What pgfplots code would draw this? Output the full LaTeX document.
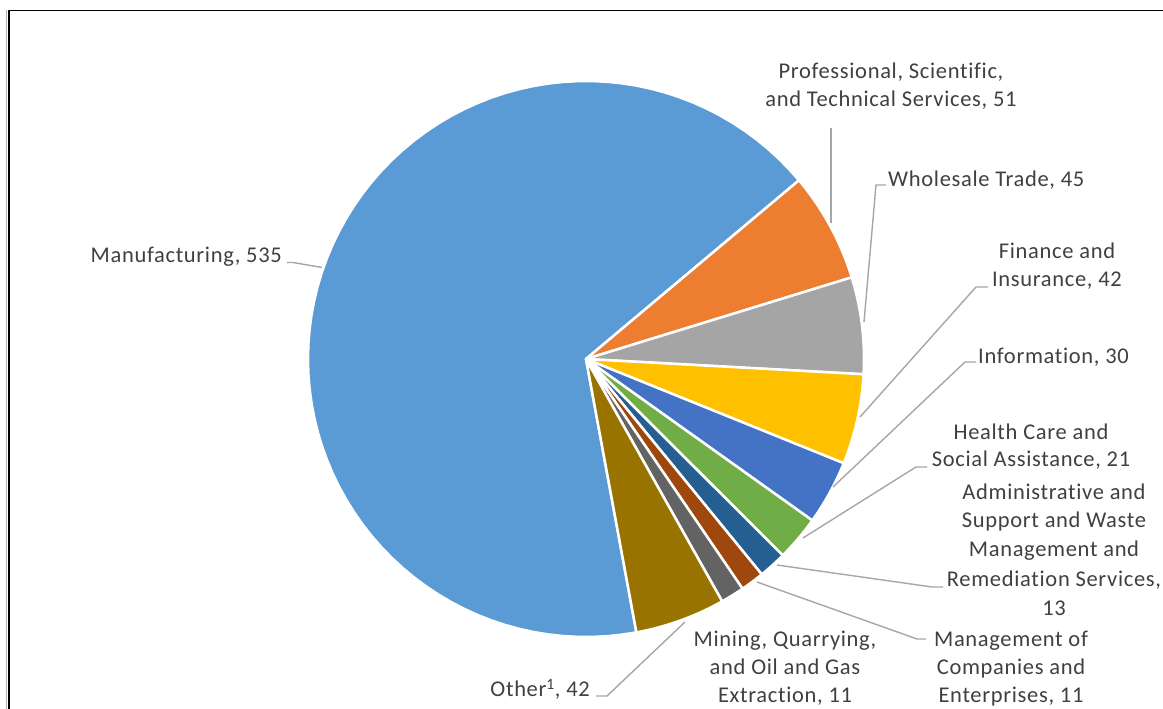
\documentclass[border=0pt]{standalone}
\usepackage{pgfplots}
\pgfplotsset{compat=1.18}
\usepackage{fontspec}
\setmainfont{Carlito}[LetterSpace=3, RawFeature={-liga;-clig;-calt;-dlig}]
\definecolor{cManu}{HTML}{5B9BD5}
\definecolor{cProf}{HTML}{ED7D31}
\definecolor{cWhol}{HTML}{A5A5A5}
\definecolor{cFin}{HTML}{FFC000}
\definecolor{cInfo}{HTML}{4472C4}
\definecolor{cHealth}{HTML}{70AD47}
\definecolor{cAdmin}{HTML}{255E91}
\definecolor{cMgmt}{HTML}{9E480E}
\definecolor{cMine}{HTML}{636363}
\definecolor{cOther}{HTML}{997300}
\definecolor{txt}{HTML}{404040}
\definecolor{lead}{HTML}{A6A6A6}
\tikzset{lbl/.style={font=\fontsize{22.5}{28}\selectfont, text=txt, inner sep=0pt}}
\begin{document}
\begin{tikzpicture}
% data values
\def\vProf{51}\def\vWhol{45}\def\vFin{42}\def\vInfo{30}\def\vHealth{21}
\def\vAdmin{13}\def\vMgmt{11}\def\vMine{11}\def\vOther{42}\def\vManu{535}
\pgfmathsetmacro{\tot}{\vProf+\vWhol+\vFin+\vInfo+\vHealth+\vAdmin+\vMgmt+\vMine+\vOther+\vManu}
\pgfmathsetmacro{\kk}{360/\tot}
\pgfmathsetmacro{\aA}{40}
\pgfmathsetmacro{\aB}{\aA-\vProf*\kk}
\pgfmathsetmacro{\aC}{\aB-\vWhol*\kk}
\pgfmathsetmacro{\aD}{\aC-\vFin*\kk}
\pgfmathsetmacro{\aE}{\aD-\vInfo*\kk}
\pgfmathsetmacro{\aF}{\aE-\vHealth*\kk}
\pgfmathsetmacro{\aG}{\aF-\vAdmin*\kk}
\pgfmathsetmacro{\aH}{\aG-\vMgmt*\kk}
\pgfmathsetmacro{\aI}{\aH-\vMine*\kk}
\pgfmathsetmacro{\aJ}{\aI-\vOther*\kk}
\pgfmathsetmacro{\aK}{\aJ-\vManu*\kk}
\def\cx{586}\def\cy{-359}\def\rr{278}
\begin{axis}[hide axis, scale only axis, width=1163pt, height=709pt,
  xmin=0, xmax=1163, ymin=-709, ymax=0, clip=false]
\newcommand{\slice}[3]{%
  \addplot[fill=#3, draw=white, line width=2.5pt, line join=round, domain=#1:#2, samples=80, variable=\t]
    ({\cx+\rr*cos(\t)},{\cy+\rr*sin(\t)}) -- (axis cs:\cx,\cy) -- cycle;}
\slice{\aK}{\aJ}{cManu}
\slice{\aB}{\aA}{cProf}
\slice{\aC}{\aB}{cWhol}
\slice{\aD}{\aC}{cFin}
\slice{\aE}{\aD}{cInfo}
\slice{\aF}{\aE}{cHealth}
\slice{\aG}{\aF}{cAdmin}
\slice{\aH}{\aG}{cMgmt}
\slice{\aI}{\aH}{cMine}
\slice{\aJ}{\aI}{cOther}
% leader lines
\draw[lead, line width=1.4pt] (axis cs:287,-262.5) -- (axis cs:293,-262.5) -- (axis cs:322,-267.5);
\draw[lead, line width=1.4pt] (axis cs:831,-128) -- (axis cs:831,-223);
\draw[lead, line width=1.4pt] (axis cs:886,-185) -- (axis cs:876,-185) -- (axis cs:864,-322);
\draw[lead, line width=1.4pt] (axis cs:988,-287) -- (axis cs:976,-287) -- (axis cs:860,-417);
\draw[lead, line width=1.4pt] (axis cs:976,-362) -- (axis cs:965,-362) -- (axis cs:833,-487);
\draw[lead, line width=1.4pt] (axis cs:927,-467) -- (axis cs:916,-467) -- (axis cs:803,-538);
\draw[lead, line width=1.4pt] (axis cs:943,-587) -- (axis cs:932,-587) -- (axis cs:777,-565);
\draw[lead, line width=1.4pt] (axis cs:926,-639) -- (axis cs:917,-639) -- (axis cs:757,-582);
\draw[lead, line width=1.4pt] (axis cs:596,-696) -- (axis cs:607,-696) -- (axis cs:685,-622);
% labels
\node[lbl, anchor=base east] at (axis cs:282,-263) {Manufacturing, 535};
\node[lbl, anchor=base] at (axis cs:891,-79) {Professional, Scientific,};
\node[lbl, anchor=base] at (axis cs:891,-107) {and Technical Services, 51};
\node[lbl, anchor=base west] at (axis cs:888,-187) {Wholesale Trade, 45};
\node[lbl, anchor=base] at (axis cs:1057,-259) {Finance and};
\node[lbl, anchor=base] at (axis cs:1057,-287) {Insurance, 42};
\node[lbl, anchor=base west] at (axis cs:978,-364) {Information, 30};
\node[lbl, anchor=base] at (axis cs:1031,-440) {Health Care and};
\node[lbl, anchor=base] at (axis cs:1031,-467) {Social Assistance, 21};
\node[lbl, anchor=base] at (axis cs:1054,-500) {Administrative and};
\node[lbl, anchor=base] at (axis cs:1054,-528) {Support and Waste};
\node[lbl, anchor=base] at (axis cs:1054,-557) {Management and};
\node[lbl, anchor=base] at (axis cs:1054,-587) {Remediation Services,};
\node[lbl, anchor=base] at (axis cs:1054,-616) {13};
\node[lbl, anchor=base] at (axis cs:1011,-647) {Management of};
\node[lbl, anchor=base] at (axis cs:1011,-675) {Companies and};
\node[lbl, anchor=base] at (axis cs:1011,-703) {Enterprises, 11};
\node[lbl, anchor=base] at (axis cs:785,-647) {Mining, Quarrying,};
\node[lbl, anchor=base] at (axis cs:785,-675) {and Oil and Gas};
\node[lbl, anchor=base] at (axis cs:785,-703) {Extraction, 11};
\node[lbl, anchor=base east] at (axis cs:590,-697) {Other\textsuperscript{1}, 42};
% chart frame
\draw[gray!60, line width=1.2pt] (axis cs:6.5,-709) -- (axis cs:6.5,-10);
\draw[black, line width=1.5pt] (axis cs:9,-709) -- (axis cs:9,-10.5) -- (axis cs:1163,-10.5);
\end{axis}
\pgfresetboundingbox
\useasboundingbox (current axis.south west) rectangle (current axis.north east);
\end{tikzpicture}
\end{document}
